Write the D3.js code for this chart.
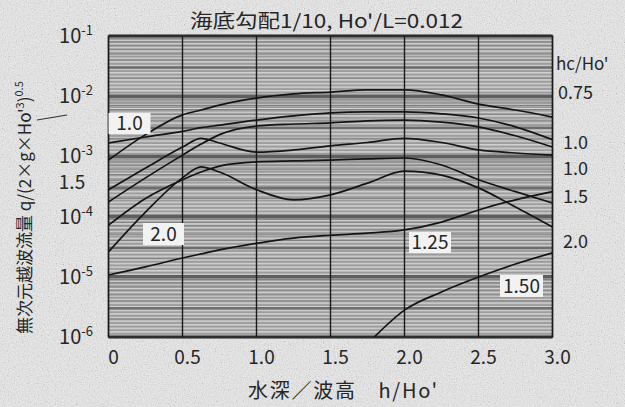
<!DOCTYPE html>
<html>
<head>
<meta charset="utf-8">
<script src="https://cdn.jsdelivr.net/npm/d3@7"></script>
<style>
body{margin:0;background:#e6e6e6}
svg{display:block}
text{font-family:"Noto Sans CJK JP","Noto Sans",sans-serif;fill:#262626}
</style>
</head>
<body>
<svg width="625" height="407"></svg>
<script>
// h/Ho' positions where the curves were read
const hValues = [0, 0.25, 0.5, 0.625, 0.75, 1.0, 1.25, 1.5, 1.75, 2.0, 2.25, 2.5, 2.75, 3.0];

// q/(2gHo'^3)^0.5
const q075 = [8.7e-4, 2.3e-3, 4.9e-3, 5.9e-3, 7.1e-3, 9.3e-3, 1.09e-2, 1.17e-2, 1.27e-2, 1.27e-2, 1.05e-2, 7.4e-3, 5.9e-3, 4.5e-3];
const q10a = [1.67e-3, 2.1e-3, 2.6e-3, 3.0e-3, 3.3e-3, 4.0e-3, 4.7e-3, 5.3e-3, 5.5e-3, 5.5e-3, 5.1e-3, 4.35e-3, 3.1e-3, 1.9e-3];
const q10b = [1.75e-4, 4.4e-4, 1.05e-3, 1.6e-3, 2.3e-3, 3.2e-3, 3.45e-3, 3.6e-3, 3.9e-3, 4.0e-3, 3.7e-3, 3.1e-3, 2.2e-3, 1.43e-3];
const q15a = [2.8e-4, 6.4e-4, 1.43e-3, 2.0e-3, 1.67e-3, 1.18e-3, 1.28e-3, 1.5e-3, 1.7e-3, 2.0e-3, 1.7e-3, 1.28e-3, 1.14e-3, 1.05e-3];
const q15b = [7.2e-5, 2.0e-4, 4.1e-4, 5.5e-4, 6.9e-4, 8.1e-4, 8.4e-4, 8.7e-4, 9.1e-4, 9.4e-4, 7.2e-4, 4.1e-4, 2.6e-4, 1.68e-4];
const q20 = [2.6e-5, 1.19e-4, 4.4e-4, 6.7e-4, 5.5e-4, 2.8e-4, 1.9e-4, 2.3e-4, 3.6e-4, 5.7e-4, 4.9e-4, 3.0e-4, 1.44e-4, 6.7e-5];
const q125 = [1.07e-5, 1.46e-5, 2.05e-5, 2.4e-5, 2.8e-5, 3.6e-5, 4.4e-5, 4.9e-5, 5.3e-5, 6.0e-5, 8.1e-5, 1.29e-4, 1.9e-4, 2.6e-4];
const q150 = [null, null, null, null, null, null, null, null, 7.7e-7, 2.8e-6, 5.6e-6, 9.9e-6, 1.63e-5, 2.5e-5];

const xTicks = [0, 0.5, 1.0, 1.5, 2.0, 2.5, 3.0];
const xTickLabels = ["0", "0.5", "1.0", "1.5", "2.0", "2.5", "3.0"];
const yTicks = [1e-1, 1e-2, 1e-3, 1e-4, 1e-5, 1e-6];
const yTickExps = ["-1", "-2", "-3", "-4", "-5", "-6"];
const rightLabels = ["0.75", "1.0", "1.0", "1.5", "2.0"];

const svg = d3.select("svg");
const width = +svg.attr("width");
const height = +svg.attr("height");
const margin = {top: 36, right: 72.5, bottom: 70, left: 108.5};
const innerWidth = width - margin.left - margin.right;
const innerHeight = height - margin.top - margin.bottom;

const x = d3.scaleLinear().domain([0, 3]).range([0, innerWidth]);
const y = d3.scaleLog().domain([1e-6, 1e-1]).range([innerHeight, 0]);

const defs = svg.append("defs");
const pat = defs.append("pattern").attr("id", "stripes")
  .attr("width", 6).attr("height", 3.6).attr("patternUnits", "userSpaceOnUse");
pat.append("rect").attr("width", 6).attr("height", 3.6).attr("fill", "#9c9c9c");
pat.append("rect").attr("width", 6).attr("height", 1.5).attr("fill", "#d2d2d2");

const noise = defs.append("filter").attr("id", "noise").attr("x", 0).attr("y", 0).attr("width", "100%").attr("height", "100%");
noise.append("feTurbulence").attr("type", "fractalNoise").attr("baseFrequency", 0.85).attr("numOctaves", 2).attr("seed", 4);
noise.append("feColorMatrix").attr("type", "matrix")
  .attr("values", "1.6 0 0 0 -0.3  1.6 0 0 0 -0.3  1.6 0 0 0 -0.3  0 0 0 0 1");

defs.append("clipPath").attr("id", "plotclip")
  .append("rect").attr("width", innerWidth).attr("height", innerHeight);

svg.append("rect").attr("width", width).attr("height", height).attr("fill", "#e8e8e8");
// scan speckle on the paper
svg.append("rect").attr("width", width).attr("height", height)
  .attr("filter", "url(#noise)").attr("opacity", 0.16);

const g = svg.append("g").attr("transform", `translate(${margin.left},${margin.top})`);

// plot background with log-paper style rules
g.append("rect").attr("width", innerWidth).attr("height", innerHeight).attr("fill", "url(#stripes)");

const minor = [];
yTicks.slice(0, -1).forEach(t => {
  [2, 4, 5, 6, 7, 8, 9].forEach(m => minor.push(t / 10 * m));
});
g.selectAll(".minor").data(minor).join("line")
  .attr("x1", 0).attr("x2", innerWidth)
  .attr("y1", d => y(d)).attr("y2", d => y(d))
  .attr("stroke", "#828282").attr("stroke-width", 1);

const third = yTicks.slice(0, -1).map(t => t * 0.3);
g.selectAll(".third").data(third).join("line")
  .attr("x1", 0).attr("x2", innerWidth)
  .attr("y1", d => y(d)).attr("y2", d => y(d))
  .attr("stroke", "#6e6e6e").attr("stroke-width", 2.5);

g.selectAll(".decade").data(yTicks).join("line")
  .attr("x1", 0).attr("x2", innerWidth)
  .attr("y1", d => y(d)).attr("y2", d => y(d))
  .attr("stroke", "#5e5e5e").attr("stroke-width", 3.5);

g.selectAll(".vgrid").data(xTicks).join("line")
  .attr("x1", d => x(d)).attr("x2", d => x(d))
  .attr("y1", 0).attr("y2", innerHeight)
  .attr("stroke", "#1a1a1a").attr("stroke-width", 1.4);

g.append("rect").attr("width", innerWidth).attr("height", innerHeight)
  .attr("fill", "none").attr("stroke", "#1a1a1a").attr("stroke-width", 1.4);

// curves
const series = [q075, q10a, q10b, q15a, q15b, q20, q125, q150];
const lineGenerator = d3.line()
  .defined(d => d[1] != null)
  .x(d => x(d[0]))
  .y(d => y(d[1]))
  .curve(d3.curveMonotoneX);

g.append("g").attr("clip-path", "url(#plotclip)")
  .selectAll("path").data(series).join("path")
  .attr("d", s => lineGenerator(hValues.map((h, i) => [h, s[i]])))
  .attr("fill", "none").attr("stroke", "#151515").attr("stroke-width", 1.7);

// inline labels on white boxes
const boxes = [
  {t: "1.0", x: 108.5, y: 113, w: 42, h: 21},
  {t: "2.0", x: 143, y: 223, w: 41, h: 22},
  {t: "1.25", x: 409, y: 232, w: 42, h: 21},
  {t: "1.50", x: 500, y: 275, w: 43, h: 22}
];
boxes.forEach(b => {
  svg.append("rect").attr("x", b.x).attr("y", b.y).attr("width", b.w).attr("height", b.h).attr("fill", "#f2f2f2");
  svg.append("text").attr("x", b.x + b.w / 2).attr("y", b.y + b.h / 2).attr("dy", "0.36em")
    .attr("text-anchor", "middle").attr("font-size", 19).text(b.t);
});

// x tick labels
svg.selectAll(".xt").data(xTicks).join("text")
  .attr("x", d => margin.left + x(d) + 5).attr("y", 364)
  .attr("text-anchor", "middle").attr("font-size", 19)
  .text((d, i) => xTickLabels[i]);

// y tick labels 10^n
yTicks.forEach((t, i) => {
  const tx = svg.append("text").attr("x", 93).attr("y", margin.top + y(t) + 7)
    .attr("text-anchor", "end").attr("font-size", 20);
  tx.append("tspan").text("10");
  tx.append("tspan").attr("font-size", 13).attr("dy", -8).text(yTickExps[i]);
});

// left outside label and leader
svg.append("text").attr("x", 72).attr("y", 189).attr("text-anchor", "middle").attr("font-size", 19).text("1.5");
svg.append("line").attr("x1", 37).attr("y1", 120).attr("x2", 67).attr("y2", 115)
  .attr("stroke", "#333").attr("stroke-width", 1.2);

// right side labels
svg.append("text").attr("x", 556).attr("y", 70).attr("font-size", 17).text("hc/Ho'");
const rightY = [99, 149, 175, 203, 248];
rightLabels.forEach((l, i) => {
  svg.append("text").attr("x", l === "0.75" ? 558 : 563).attr("y", rightY[i]).attr("font-size", 18).text(l);
});

// title
svg.append("text").attr("x", 190).attr("y", 28).attr("font-size", 19)
  .attr("textLength", 273).attr("lengthAdjust", "spacingAndGlyphs")
  .text("海底勾配1/10, Ho'/L=0.012");

// x axis title
svg.append("text").attr("x", 248).attr("y", 398).attr("font-size", 20)
  .attr("textLength", 189).attr("lengthAdjust", "spacing")
  .text("水深／波高　h/Ho'");

// y axis title
const yl = svg.append("text")
  .attr("transform", "translate(31,334) rotate(-90)")
  .attr("font-size", 17);
yl.append("tspan").text("無次元越波流量 q/(2×g×Ho'");
yl.append("tspan").attr("font-size", 11).attr("dy", -7).text("3");
yl.append("tspan").attr("dy", 7).text(")");
yl.append("tspan").attr("font-size", 11).attr("dy", -8).text("0.5");
</script>
</body>
</html>
